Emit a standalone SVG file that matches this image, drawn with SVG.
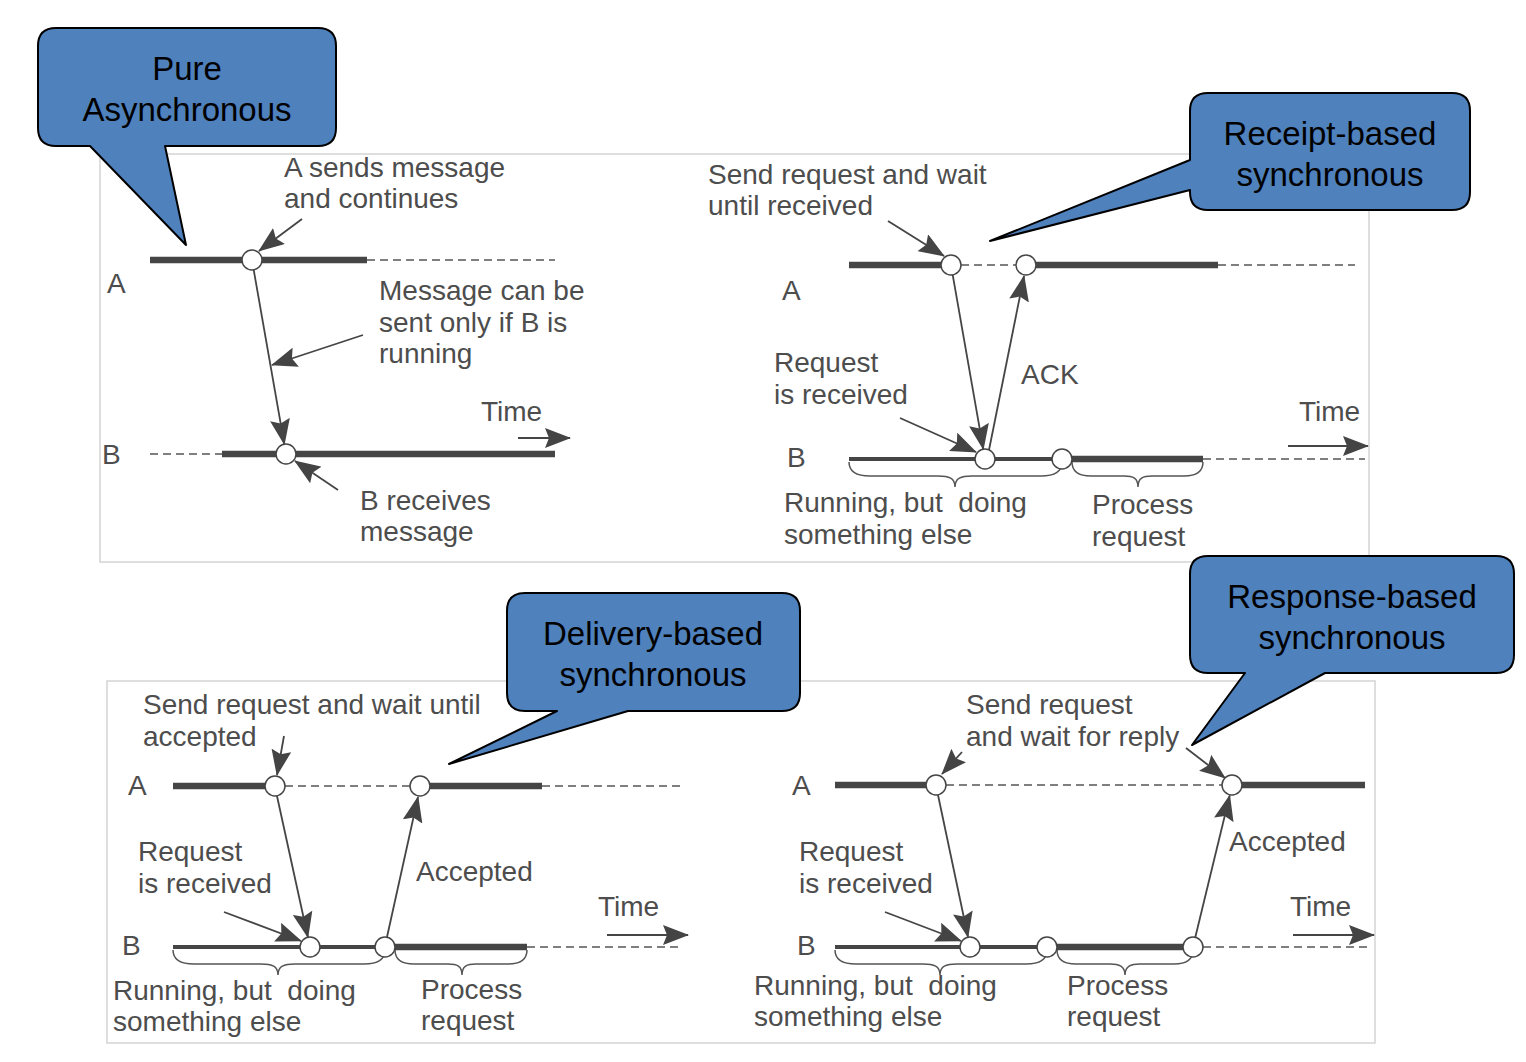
<svg xmlns="http://www.w3.org/2000/svg" width="1526" height="1062" viewBox="0 0 1526 1062">
<defs>
<marker id="ah" markerUnits="userSpaceOnUse" markerWidth="26" markerHeight="20" refX="25" refY="10" orient="auto"><path d="M0,0 L26,10 L0,20 L4,10 Z" fill="#444"/></marker>
<style>
.t{font-family:"Liberation Sans",Arial,sans-serif;font-size:28px;fill:#4d4d4d;white-space:pre}
.c{font-family:"Liberation Sans",Arial,sans-serif;font-size:33px;fill:#000;text-anchor:middle}
.panel{fill:#fff;stroke:#d4d4d4;stroke-width:1.5}
.thick{stroke:#454545;stroke-width:6.5;fill:none}
.med{stroke:#454545;stroke-width:4;fill:none}
.dash{stroke:#555;stroke-width:1.5;stroke-dasharray:8 5;fill:none}
.msg{stroke:#454545;stroke-width:1.8;fill:none;marker-end:url(#ah)}
.brace{stroke:#555;stroke-width:1.5;fill:none}
.ev{fill:#fff;stroke:#454545;stroke-width:1.5}
.call{fill:#4f81bd;stroke:#000;stroke-width:2;stroke-linejoin:round}
</style>
</defs>
<rect width="1526" height="1062" fill="#fff"/>
<g id="panels">
<rect class="panel" x="100" y="154" width="1269" height="408"/>
<rect class="panel" x="107" y="681" width="1268" height="362"/>
</g>
<g id="timelines">
<line class="thick" x1="150" y1="260" x2="367" y2="260"/>
<line class="dash" x1="367" y1="260" x2="555" y2="260"/>
<line class="dash" x1="150" y1="454" x2="222" y2="454"/>
<line class="thick" x1="222" y1="454" x2="555" y2="454"/>
<line class="thick" x1="849" y1="265" x2="941" y2="265"/>
<line class="dash" x1="961" y1="265" x2="1016" y2="265"/>
<line class="thick" x1="1036" y1="265" x2="1218" y2="265"/>
<line class="dash" x1="1218" y1="265" x2="1355" y2="265"/>
<line class="med" x1="849" y1="459" x2="1062" y2="459"/>
<line class="thick" x1="1072" y1="459" x2="1203" y2="459"/>
<line class="dash" x1="1203" y1="459" x2="1365" y2="459"/>
<line class="thick" x1="173" y1="786" x2="265" y2="786"/>
<line class="dash" x1="285" y1="786" x2="410" y2="786"/>
<line class="thick" x1="430" y1="786" x2="542" y2="786"/>
<line class="dash" x1="542" y1="786" x2="680" y2="786"/>
<line class="med" x1="173" y1="947" x2="385" y2="947"/>
<line class="thick" x1="395" y1="947" x2="527" y2="947"/>
<line class="dash" x1="527" y1="947" x2="680" y2="947"/>
<line class="thick" x1="835" y1="785" x2="926" y2="785"/>
<line class="dash" x1="946" y1="785" x2="1222" y2="785"/>
<line class="thick" x1="1242" y1="785" x2="1365" y2="785"/>
<line class="med" x1="835" y1="947" x2="1047" y2="947"/>
<line class="thick" x1="1057" y1="947" x2="1183" y2="947"/>
<line class="dash" x1="1203" y1="947" x2="1370" y2="947"/>
</g>
<g id="braces">
<path class="brace" d="M849,462 C849,472 856,476 870,476 L938,476 C949,476 955,478 955,487 C955,478 961,476 972,476 L1041,476 C1055,476 1062,472 1062,462"/>
<path class="brace" d="M1072,462 C1072,472 1079,476 1091,476 L1124,476 C1133,476 1138,478 1138,487 C1138,478 1143,476 1152,476 L1184,476 C1196,476 1203,472 1203,462"/>
<path class="brace" d="M173,950 C173,960 180,964 194,964 L261,964 C272,964 278,966 278,975 C278,966 284,964 295,964 L364,964 C378,964 385,960 385,950"/>
<path class="brace" d="M395,950 C395,960 402,964 414,964 L448,964 C457,964 462,966 462,975 C462,966 467,964 476,964 L508,964 C520,964 527,960 527,950"/>
<path class="brace" d="M835,950 C835,960 842,964 856,964 L923,964 C934,964 940,966 940,975 C940,966 946,964 957,964 L1026,964 C1040,964 1047,960 1047,950"/>
<path class="brace" d="M1057,950 C1057,960 1064,964 1076,964 L1110,964 C1119,964 1125,966 1125,975 C1125,966 1131,964 1140,964 L1174,964 C1186,964 1193,960 1193,950"/>
</g>
<g id="connectors">
<line class="msg" x1="253.7" y1="269.9" x2="284.3" y2="444.2"/>
<line class="msg" x1="302" y1="219" x2="259" y2="251"/>
<line class="msg" x1="363" y1="335" x2="272" y2="365"/>
<line class="msg" x1="338" y1="490" x2="295" y2="461"/>
<line class="msg" x1="518" y1="438" x2="570" y2="438"/>
<line class="msg" x1="952.7" y1="274.9" x2="983.3" y2="449.2"/>
<line class="msg" x1="989" y1="450" x2="1024" y2="276"/>
<line class="msg" x1="888" y1="221" x2="944" y2="256"/>
<line class="msg" x1="900" y1="418" x2="976" y2="452"/>
<line class="msg" x1="1288" y1="446" x2="1368" y2="446"/>
<line class="msg" x1="277" y1="796" x2="307.9" y2="937.2"/>
<line class="msg" x1="387" y1="937" x2="418" y2="797"/>
<line class="msg" x1="284" y1="736" x2="277" y2="775"/>
<line class="msg" x1="224" y1="912" x2="301" y2="941"/>
<line class="msg" x1="607" y1="935" x2="688" y2="935"/>
<line class="msg" x1="938" y1="795" x2="968" y2="937"/>
<line class="msg" x1="1195.3" y1="937.3" x2="1229.7" y2="795.5"/>
<line class="msg" x1="962" y1="752" x2="942" y2="774"/>
<line class="msg" x1="1186" y1="748" x2="1225" y2="778"/>
<line class="msg" x1="885" y1="912" x2="961" y2="941"/>
<line class="msg" x1="1293" y1="935" x2="1374" y2="935"/>
</g>
<g id="events">
<circle class="ev" cx="252" cy="260" r="10"/>
<circle class="ev" cx="286" cy="454" r="10"/>
<circle class="ev" cx="951" cy="265" r="10"/>
<circle class="ev" cx="1026" cy="265" r="10"/>
<circle class="ev" cx="985" cy="459" r="10"/>
<circle class="ev" cx="1062" cy="459" r="10"/>
<circle class="ev" cx="275" cy="786" r="10"/>
<circle class="ev" cx="420" cy="786" r="10"/>
<circle class="ev" cx="310" cy="947" r="10"/>
<circle class="ev" cx="385" cy="947" r="10"/>
<circle class="ev" cx="936" cy="785" r="10"/>
<circle class="ev" cx="1232" cy="785" r="10"/>
<circle class="ev" cx="970" cy="947" r="10"/>
<circle class="ev" cx="1047" cy="947" r="10"/>
<circle class="ev" cx="1193" cy="947" r="10"/>
</g>
<g id="labels">
<text class="t" x="284" y="177">A sends message</text>
<text class="t" x="284" y="208">and continues</text>
<text class="t" x="107" y="293">A</text>
<text class="t" x="379" y="300">Message can be</text>
<text class="t" x="379" y="332">sent only if B is</text>
<text class="t" x="379" y="363">running</text>
<text class="t" x="481" y="421">Time</text>
<text class="t" x="102" y="464">B</text>
<text class="t" x="360" y="510">B receives</text>
<text class="t" x="360" y="541">message</text>
<text class="t" x="708" y="184">Send request and wait</text>
<text class="t" x="708" y="215">until received</text>
<text class="t" x="782" y="300">A</text>
<text class="t" x="774" y="372">Request</text>
<text class="t" x="774" y="404">is received</text>
<text class="t" x="1021" y="384">ACK</text>
<text class="t" x="1299" y="421">Time</text>
<text class="t" x="787" y="467">B</text>
<text class="t" x="784" y="512">Running, but  doing</text>
<text class="t" x="784" y="544">something else</text>
<text class="t" x="1092" y="514">Process</text>
<text class="t" x="1092" y="546">request</text>
<text class="t" x="143" y="714">Send request and wait until</text>
<text class="t" x="143" y="746">accepted</text>
<text class="t" x="128" y="795">A</text>
<text class="t" x="138" y="861">Request</text>
<text class="t" x="138" y="893">is received</text>
<text class="t" x="416" y="881">Accepted</text>
<text class="t" x="598" y="916">Time</text>
<text class="t" x="122" y="955">B</text>
<text class="t" x="113" y="1000">Running, but  doing</text>
<text class="t" x="113" y="1031">something else</text>
<text class="t" x="421" y="999">Process</text>
<text class="t" x="421" y="1030">request</text>
<text class="t" x="966" y="714">Send request</text>
<text class="t" x="966" y="746">and wait for reply</text>
<text class="t" x="792" y="795">A</text>
<text class="t" x="799" y="861">Request</text>
<text class="t" x="799" y="893">is received</text>
<text class="t" x="1229" y="851">Accepted</text>
<text class="t" x="1290" y="916">Time</text>
<text class="t" x="797" y="955">B</text>
<text class="t" x="754" y="995">Running, but  doing</text>
<text class="t" x="754" y="1026">something else</text>
<text class="t" x="1067" y="995">Process</text>
<text class="t" x="1067" y="1026">request</text>
</g>
<g id="callout-pure">
<path class="call" d="M56,28 H318 Q336,28 336,46 V128 Q336,146 318,146 H165 L186,245 L90,146 H56 Q38,146 38,128 V46 Q38,28 56,28 Z"/>
<text class="c" x="187" y="80">Pure</text>
<text class="c" x="187" y="121">Asynchronous</text>
</g>
<g id="callout-receipt">
<path class="call" d="M1208,93 H1452 Q1470,93 1470,111 V192 Q1470,210 1452,210 H1208 Q1190,210 1190,192 V190 L990,241 L1190,160 V111 Q1190,93 1208,93 Z"/>
<text class="c" x="1330" y="145">Receipt-based</text>
<text class="c" x="1330" y="186">synchronous</text>
</g>
<g id="callout-delivery">
<path class="call" d="M525,593 H782 Q800,593 800,611 V693 Q800,711 782,711 H628 L449,764 L557,711 H525 Q507,711 507,693 V611 Q507,593 525,593 Z"/>
<text class="c" x="653" y="645">Delivery-based</text>
<text class="c" x="653" y="686">synchronous</text>
</g>
<g id="callout-response">
<path class="call" d="M1208,556 H1496 Q1514,556 1514,574 V655 Q1514,673 1496,673 H1325 L1192,745 L1245,673 H1208 Q1190,673 1190,655 V574 Q1190,556 1208,556 Z"/>
<text class="c" x="1352" y="608">Response-based</text>
<text class="c" x="1352" y="649">synchronous</text>
</g>
</svg>
